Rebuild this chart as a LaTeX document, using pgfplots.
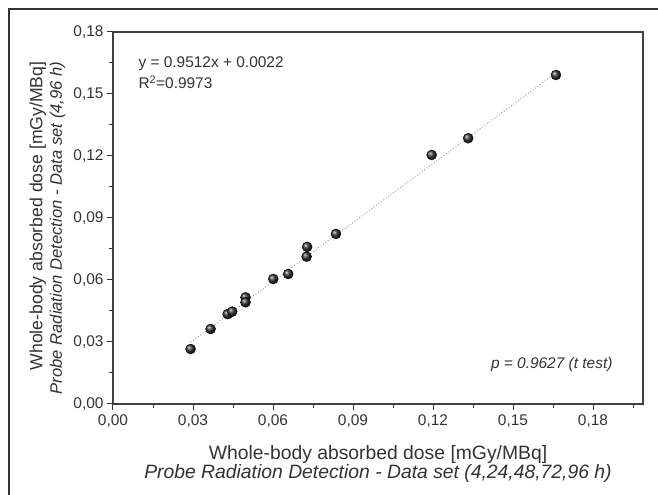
\documentclass[border=0pt]{standalone}
\usepackage{pgfplots}
\pgfplotsset{compat=1.18}
\usepackage{fontspec}
\setmainfont{Liberation Sans}
\definecolor{txt}{HTML}{333333}
\begin{document}
\begin{tikzpicture}[x=1bp,y=1bp]
\useasboundingbox (-113,-91) rectangle (545,404);
\fill[white] (-113,-91) rectangle (545,404);
\draw[black!80, line width=1.4bp] (-104,-95) rectangle (549,395);
\begin{axis}[
  at={(0,0)}, anchor=south west,
  scale only axis, width=530bp, height=372bp,
  xmin=0, xmax=0.19875, ymin=0, ymax=0.18,
  xtick={0,0.03,0.06,0.09,0.12,0.15,0.18},
  ytick={0,0.03,0.06,0.09,0.12,0.15,0.18},
  minor xtick={0.015,0.045,0.075,0.105,0.135,0.165,0.195},
  minor ytick={0.015,0.045,0.075,0.105,0.135,0.165},
  xtick pos=bottom, ytick pos=left, tick align=outside,
  major tick length=6bp, minor tick length=4bp,
  every tick/.style={black!80, line width=1bp},
  axis line style={black!75, line width=1.2bp},
  tick label style={font=\fontsize{15.5}{17}\selectfont, text=txt},
  xticklabel style={yshift=-1bp},
  /pgf/number format/.cd, fixed, fixed zerofill, precision=2, use comma, assume math mode=true,
  /pgfplots/.cd,
  xlabel={Whole-body absorbed dose [mGy/MBq]\\\textit{Probe Radiation Detection - Data set (4,24,48,72,96 h)}},
  xlabel style={at={(axis description cs:0.5,-0.162)}, anchor=center, align=center, text=txt, font=\fontsize{19.4}{17.5}\selectfont},
  ylabel={Whole-body absorbed dose [mGy/MBq]\\{\fontsize{16.7}{19.5}\selectfont\itshape Probe Radiation Detection - Data set (4,96 h)}},
  ylabel style={at={(axis description cs:-0.1236,0.930)}, anchor=east, align=right, text=txt, font=\fontsize{17.7}{19.5}\selectfont},
]
\addplot[black!35, dotted, line width=1bp, forget plot] coordinates {(0.0291,0.0299) (0.1661,0.1602)};
\addplot[only marks, mark=ball, mark size=5bp, mark options={ball color=black!80}] table {
x y
0.0291 0.0266
0.0366 0.0363
0.0430 0.0435
0.0447 0.0447
0.0497 0.0516
0.0497 0.0492
0.0601 0.0605
0.0657 0.0629
0.0726 0.0713
0.0728 0.0760
0.0836 0.0823
0.1195 0.1205
0.1332 0.1286
0.1661 0.1592
};
\node[anchor=west, font=\fontsize{15.5}{17}\selectfont, text=txt] at (rel axis cs:0.0415,0.915) {y = 0.9512x + 0.0022};
\node[anchor=west, font=\fontsize{15.5}{17}\selectfont, text=txt] at (rel axis cs:0.0415,0.864) {R\textsuperscript{2}=0.9973};
\node[anchor=east, font=\fontsize{15.5}{17}\itshape, text=txt] at (rel axis cs:0.949,0.105) {p = 0.9627 (t test)};
\end{axis}
\end{tikzpicture}
\end{document}
